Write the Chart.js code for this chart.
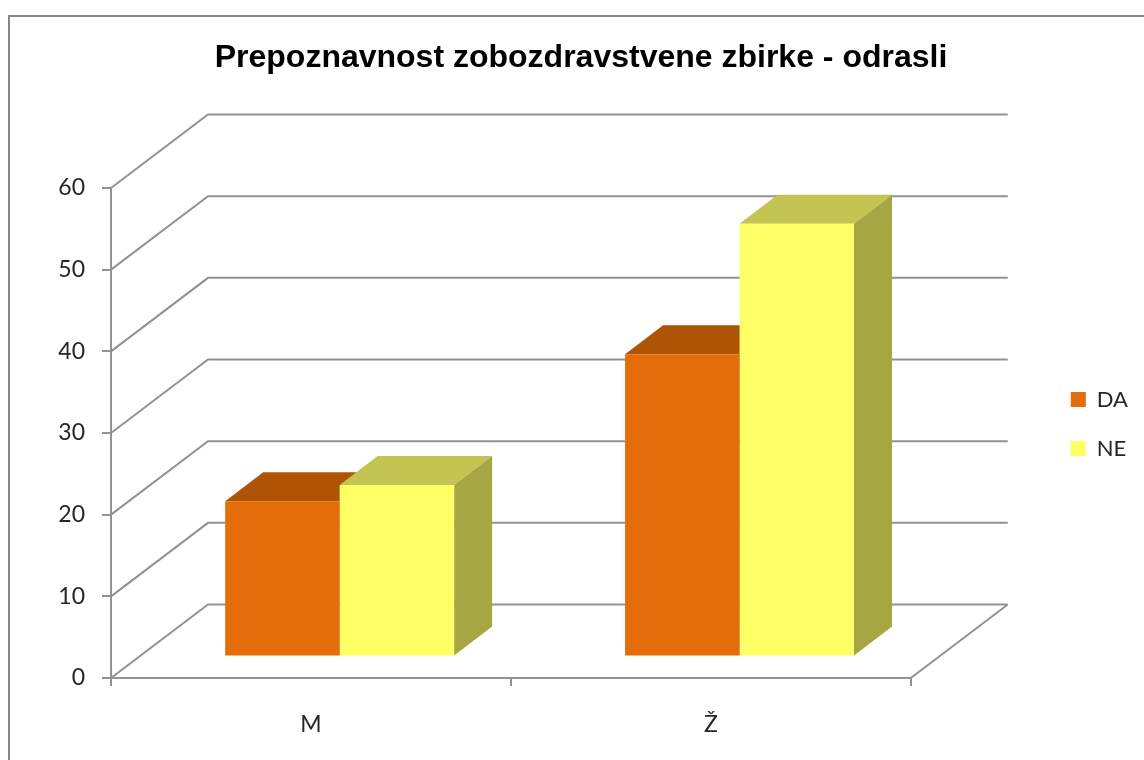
<!DOCTYPE html>
<html>
<head>
<meta charset="utf-8">
<script src="https://cdn.jsdelivr.net/npm/chart.js@4"></script>
<style>
html,body{margin:0;padding:0;background:#fff;overflow:hidden}
#wrap{position:relative;width:1144px;height:760px;overflow:hidden}
#frame{position:absolute;left:8px;top:15px;width:1300px;height:900px;border:2px solid #868686;box-sizing:border-box}
canvas{position:absolute;left:0;top:0}
</style>
</head>
<body>
<div id="wrap"><div id="frame"></div><canvas id="c" width="1144" height="760"></canvas></div>
<script>
const chartTitle = 'Prepoznavnost zobozdravstvene zbirke - odrasli';
const categories = ['M', 'Ž'];
const seriesDA = [19, 37];
const seriesNE = [21, 53];
const axisMax = 60;
const axisStep = 10;

const lineColor = '#929292';
const textColor = '#262626';
const labelFont = {family: 'Lato', size: 22};
const tickFont = {family: 'Lato', size: 23};
const wall = {dx: 97, dy: -73.5};
const barShift = {dx: 28.7, dy: -21.5};
const barDepth = {dx: 38, dy: -29};
const shades = [
  {front: '#E46C0A', top: '#AF5305', side: '#8F4404'},
  {front: '#FFFF66', top: '#C4C452', side: '#A6A643'}
];

const threeD = {
  id: 'threeD',
  afterLayout(chart) {
    if (chart.legend) { chart.legend.top += 44; chart.legend.bottom += 44; }
  },
  beforeDatasetsDraw(chart) {
    const {ctx, scales: {x, y}, chartArea: a} = chart;
    ctx.save();
    ctx.strokeStyle = lineColor;
    ctx.lineWidth = 2;
    ctx.beginPath();
    y.ticks.forEach(t => {
      const p = y.getPixelForValue(t.value);
      ctx.moveTo(a.left, p);
      ctx.lineTo(a.left + wall.dx, p + wall.dy);
      ctx.lineTo(a.right + wall.dx, p + wall.dy);
    });
    ctx.moveTo(a.right, a.bottom);
    ctx.lineTo(a.right + wall.dx, a.bottom + wall.dy);
    ctx.stroke();
    ctx.restore();

    ctx.save();
    ctx.translate(barShift.dx, barShift.dy);
    chart.data.datasets.forEach((ds, i) => {
      chart.getDatasetMeta(i).data.forEach(bar => {
        const l = bar.x - bar.width / 2, r = bar.x + bar.width / 2;
        ctx.fillStyle = shades[i].top;
        ctx.beginPath();
        ctx.moveTo(l, bar.y);
        ctx.lineTo(l + barDepth.dx, bar.y + barDepth.dy);
        ctx.lineTo(r + barDepth.dx, bar.y + barDepth.dy);
        ctx.lineTo(r, bar.y);
        ctx.closePath();
        ctx.fill();
        ctx.fillStyle = shades[i].side;
        ctx.beginPath();
        ctx.moveTo(r, bar.y);
        ctx.lineTo(r + barDepth.dx, bar.y + barDepth.dy);
        ctx.lineTo(r + barDepth.dx, bar.base + barDepth.dy);
        ctx.lineTo(r, bar.base);
        ctx.closePath();
        ctx.fill();
      });
    });
    // left in place: the bar fronts are drawn under this shift, restored afterwards
  },
  afterDatasetsDraw(chart) {
    chart.ctx.restore();
  }
};

new Chart(document.getElementById('c'), {
  type: 'bar',
  data: {
    labels: categories,
    datasets: [
      {label: 'DA', data: seriesDA, backgroundColor: shades[0].front, borderWidth: 0},
      {label: 'NE', data: seriesNE, backgroundColor: shades[1].front, borderWidth: 0}
    ]
  },
  options: {
    responsive: false,
    animation: false,
    layout: {padding: {left: 24, right: 6, top: 0, bottom: 0}},
    categoryPercentage: 0.5725,
    barPercentage: 1,
    clip: false,
    plugins: {
      title: {
        display: true,
        text: chartTitle,
        color: '#000',
        font: {family: 'Liberation Sans', size: 32, weight: 'bold', lineHeight: 1.2},
        padding: {top: 39, bottom: 110.6}
      },
      legend: {
        position: 'right',
        labels: {
          boxWidth: 15, boxHeight: 15, padding: 27,
          color: textColor, font: labelFont
        }
      },
      tooltip: {enabled: false}
    },
    scales: {
      x: {
        grid: {display: true, drawOnChartArea: false, drawTicks: true, tickLength: 8, color: lineColor, lineWidth: 2, offset: true},
        border: {display: true, color: lineColor, width: 2},
        ticks: {color: textColor, font: tickFont, padding: 25, maxRotation: 0},
        afterFit(s) { s.height = 82; }
      },
      y: {
        min: 0, max: axisMax,
        grid: {display: true, drawOnChartArea: false, drawTicks: true, tickLength: 9, color: lineColor, lineWidth: 2},
        border: {display: true, color: lineColor, width: 2},
        ticks: {stepSize: axisStep, color: textColor, font: tickFont, padding: 17},
        afterFit(s) { s.width = 87; }
      },
      spacer: {
        type: 'linear', position: 'right', display: true,
        grid: {display: false}, border: {display: false}, ticks: {display: false},
        afterFit(s) { s.width = 133; }
      }
    }
  },
  plugins: [threeD]
});
</script>
</body>
</html>
